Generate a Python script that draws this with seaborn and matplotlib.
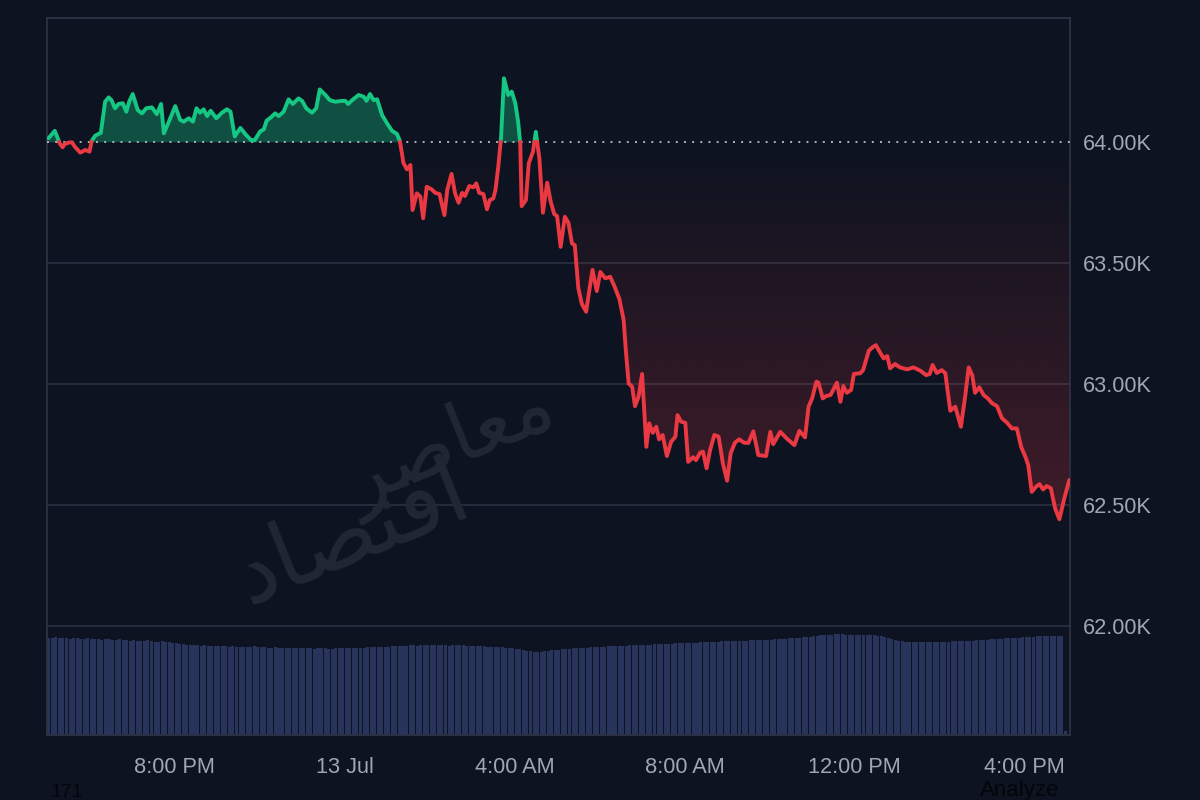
import numpy as np
import pandas as pd
import matplotlib
matplotlib.use("Agg")
import matplotlib.pyplot as plt
import seaborn as sns
from matplotlib.path import Path

# ---------------- data ----------------
# minutes since 5:00 PM (12 Jul) and price in USD
minutes = [2, 11, 18, 22, 25, 30, 35, 40, 47, 54, 60, 63, 68, 76, 82, 87, 91, 96, 101, 107,
           112, 116, 121, 128, 134, 140, 148, 155, 161, 165, 174, 181, 188, 193, 200, 206, 211, 216, 221, 226,
           231, 239, 247, 254, 259, 265, 273, 281, 288, 293, 301, 306, 310, 317, 322, 327, 334, 341, 347, 355,
           360, 366, 374, 380, 385, 393, 399, 407, 414, 421, 425, 432, 440, 447, 451, 456, 461, 466, 473, 480,
           487, 494, 498, 501, 503, 508, 513, 516, 522, 527, 531, 536, 543, 548, 554, 561, 565, 571, 576, 581,
           586, 590, 596, 602, 606, 610, 616, 621, 625, 630, 633, 637, 641, 645, 651, 656, 661, 665, 668, 670,
           676, 680, 686, 690, 695, 700, 706, 711, 716, 720, 725, 731, 736, 741, 745, 750, 755, 761, 766, 770,
           776, 781, 788, 795, 801, 808, 814, 817, 821, 826, 830, 835, 840, 846, 850, 855, 860, 864, 869, 875,
           881, 887, 890, 895, 901, 905, 912, 916, 922, 926, 931, 936, 942, 948, 954, 960, 965, 971, 977, 984,
           990, 997, 1004, 1015, 1021, 1025, 1035, 1044, 1055, 1062, 1070, 1075, 1080, 1086, 1089, 1095, 1100, 1106, 1115, 1120,
           1124, 1129, 1135, 1139, 1148, 1152, 1160, 1166, 1170, 1176, 1181, 1186, 1190, 1197, 1204, 1214, 1223, 1233, 1241, 1246,
           1250, 1256, 1263, 1268, 1275, 1282, 1290, 1296, 1301, 1306, 1310, 1316, 1322, 1328, 1334, 1341, 1348, 1355, 1362, 1369,
           1375, 1381, 1385, 1390, 1396, 1401, 1406, 1411, 1417, 1423, 1429, 1436, 1443]
prices = [64014, 64045, 63993, 63977, 63990, 63996, 63998, 63977, 63955, 63966, 63959, 64003, 64025, 64037, 64165, 64183, 64172, 64138, 64156, 64159,
          64124, 64165, 64197, 64131, 64117, 64138, 64142, 64114, 64156, 64035, 64097, 64147, 64090, 64083, 64097, 64083, 64138, 64120, 64134, 64106,
          64128, 64097, 64120, 64134, 64124, 64022, 64057, 64028, 64007, 64006, 64043, 64051, 64087, 64103, 64117, 64106, 64124, 64175, 64156, 64179,
          64169, 64138, 64120, 64138, 64216, 64193, 64172, 64165, 64168, 64169, 64156, 64175, 64193, 64186, 64169, 64197, 64172, 64175, 64110, 64076,
          64045, 64032, 64004, 63952, 63913, 63886, 63904, 63718, 63787, 63773, 63684, 63814, 63803, 63789, 63784, 63697, 63801, 63867, 63787, 63748,
          63789, 63776, 63817, 63812, 63828, 63789, 63784, 63721, 63759, 63766, 63800, 63897, 64021, 64262, 64193, 64207, 64159, 64083, 63993, 63734,
          63759, 63911, 63959, 64041, 63931, 63707, 63831, 63752, 63701, 63693, 63566, 63690, 63665, 63580, 63573, 63395, 63330, 63298, 63396, 63471,
          63383, 63462, 63436, 63442, 63403, 63350, 63263, 63140, 63002, 62988, 62908, 62947, 63041, 62740, 62837, 62798, 62823, 62771, 62789, 62702,
          62761, 62782, 62871, 62844, 62839, 62678, 62697, 62685, 62716, 62720, 62651, 62727, 62789, 62782, 62672, 62600, 62713, 62757, 62771, 62757,
          62756, 62804, 62706, 62702, 62802, 62751, 62802, 62775, 62747, 62806, 62779, 62906, 62940, 63009, 63005, 62940, 62950, 62954, 63005, 62926,
          62991, 62963, 62975, 63041, 63044, 63057, 63137, 63153, 63160, 63129, 63105, 63115, 63064, 63082, 63068, 63060, 63068, 63054, 63036, 63041,
          63078, 63045, 63057, 63044, 62889, 62906, 62823, 62947, 63068, 63036, 62963, 62986, 62954, 62940, 62920, 62908, 62858, 62840, 62816, 62816,
          62740, 62699, 62665, 62554, 62575, 62586, 62564, 62578, 62569, 62486, 62441, 62527, 62603]

# 5-minute volume bars (arbitrary units, relative heights)
volume = [97, 97, 98, 97, 97, 97, 96, 97, 97, 96, 96, 97,
          96, 96, 96, 95, 96, 96, 95, 95, 96, 95, 95, 94,
          95, 94, 94, 94, 95, 94, 93, 93, 94, 93, 93, 92,
          92, 91, 91, 90, 90, 90, 90, 89, 90, 89, 89, 89,
          89, 89, 89, 88, 89, 88, 88, 88, 88, 88, 89, 88,
          88, 88, 87, 87, 88, 87, 87, 87, 87, 87, 87, 87,
          87, 87, 87, 86, 87, 87, 87, 86, 86, 87, 87, 87,
          87, 87, 87, 87, 87, 87, 88, 88, 88, 88, 88, 88,
          88, 89, 89, 89, 89, 89, 90, 90, 89, 90, 90, 90,
          90, 90, 90, 90, 90, 89, 90, 90, 90, 90, 89, 89,
          89, 89, 89, 89, 88, 88, 88, 88, 88, 87, 87, 87,
          86, 86, 85, 84, 84, 83, 83, 83, 84, 84, 85, 85,
          85, 86, 86, 86, 87, 87, 87, 87, 87, 88, 88, 88,
          88, 88, 89, 89, 89, 89, 89, 89, 90, 90, 90, 90,
          90, 90, 90, 91, 91, 91, 91, 91, 91, 92, 92, 92,
          92, 92, 92, 92, 93, 93, 93, 93, 93, 93, 94, 94,
          94, 94, 94, 94, 94, 94, 95, 95, 95, 95, 95, 95,
          95, 96, 96, 96, 96, 97, 97, 97, 97, 98, 98, 98,
          99, 99, 100, 100, 100, 100, 101, 101, 101, 100, 100, 100,
          100, 100, 100, 100, 100, 100, 99, 99, 98, 97, 96, 95,
          94, 94, 93, 93, 93, 93, 93, 93, 93, 93, 93, 93,
          93, 93, 93, 94, 94, 94, 94, 94, 94, 94, 95, 95,
          95, 95, 96, 96, 96, 96, 97, 97, 97, 97, 97, 98,
          98, 98, 98, 99, 99, 99, 99, 99, 99, 99, 99, 4]

tick_minutes = [180, 420, 660, 900, 1140, 1380]
tick_labels = ["8:00 PM", "13 Jul", "4:00 AM", "8:00 AM", "12:00 PM", "4:00 PM"]
price_ticks = [62000, 62500, 63000, 63500, 64000]
BASE = 64000

# ---------------- style ----------------
BG = "#0d1320"
GREEN = "#16c784"
RED = "#ea3943"
GRID = "#2d3342"
TXT = "#a0a6b4"

sns.set_theme(style="dark")
plt.rcParams["font.family"] = ["Liberation Sans", "DejaVu Sans"]

# insert baseline crossing points so colours switch exactly at the baseline
t = np.array(minutes, float)
p = np.array(prices, float)
tt, pp = [t[0]], [p[0]]
for i in range(1, len(t)):
    a, b = p[i - 1] - BASE, p[i] - BASE
    if a * b < 0:
        tt.append(t[i - 1] + (t[i] - t[i - 1]) * a / (a - b))
        pp.append(BASE)
    tt.append(t[i])
    pp.append(p[i])
tt = np.array(tt)
pp = np.array(pp)

rows = []
seg = 0
side = "up" if pp[0] > BASE else "down"
for ti, pi in zip(tt, pp):
    rows.append((ti, pi, seg, side))
    if pi == BASE:
        seg += 1
        side = "down" if side == "up" else "up"
        rows.append((ti, pi, seg, side))
df = pd.DataFrame(rows, columns=["t", "p", "seg", "side"])

fig = plt.figure(figsize=(12, 8), dpi=100, facecolor=BG)
ax = fig.add_axes([47 / 1200, 1 - 735 / 800, (1070 - 47) / 1200, (735 - 18) / 800])
ax_v = ax.twinx()

# volume bars (behind)
vol_t = np.arange(len(volume)) * 5 + 2.5
ax_v.bar(vol_t, volume, width=4.3, color="#29345c", linewidth=0)
ax_v.set_ylim(0, 717)
ax_v.set_yticks([])
for s in ax_v.spines.values():
    s.set_visible(False)
ax_v.grid(False)

ax.set_zorder(ax_v.get_zorder() + 1)
ax.patch.set_visible(False)
ax_v.patch.set_facecolor(BG)

# green fill above baseline
up = np.maximum(pp, BASE)
ax.fill_between(tt, BASE, up, color=GREEN, alpha=0.34, linewidth=0, zorder=2)

# red gradient fill below baseline
down = np.minimum(pp, BASE)
poly = ax.fill_between(tt, down, BASE, facecolor="none", linewidth=0, zorder=1)
ny = 200
alpha = np.linspace(0.25, 0.0, ny)
grad = np.zeros((ny, 2, 4))
rgb = matplotlib.colors.to_rgb(RED)
grad[..., 0], grad[..., 1], grad[..., 2] = rgb
grad[..., 3] = alpha[:, None]
im = ax.imshow(grad, extent=[0, 1444, 62350, 64000], origin="lower", aspect="auto",
               zorder=1, interpolation="bilinear")
clip = Path.make_compound_path(*poly.get_paths())
im.set_clip_path(clip, transform=ax.transData)

# grid lines and dotted baseline
for v in price_ticks:
    if v == BASE:
        ax.axhline(v, color="#aeb3bd", lw=1.4, ls=(0, (1, 3.2)), zorder=3)
    else:
        ax.axhline(v, color=GRID, lw=1.1, zorder=0.5)

# price line
sns.lineplot(data=df, x="t", y="p", hue="side", units="seg", estimator=None,
             palette={"up": GREEN, "down": RED}, linewidth=2.8, legend=False,
             sort=False, ax=ax, zorder=4)

# watermark (faint)
ax.text(570, 62740, "\uFEAE\uFEBB\uFE8E\uFECC\uFEE3", rotation=22, ha="center", va="center",
        fontsize=58, color="#212734", family="DejaVu Sans", zorder=0.6)
ax.text(430, 62380, "\uFEA9\uFE8E\uFEBC\uFE98\uFED7\uFE8D", rotation=22, ha="center", va="center",
        fontsize=66, color="#212734", family="DejaVu Sans", zorder=0.6)

ax.set_xlim(0, 1444)
ax.set_ylim(61550, 64511)
ax.set_xticks(tick_minutes)
ax.set_xticklabels(tick_labels)
ax.set_yticks(price_ticks)
ax.set_yticklabels([f"{v / 1000:.2f}K" for v in price_ticks])
ax.yaxis.tick_right()
ax.yaxis.set_label_position("right")
ax.set_xlabel("")
ax.set_ylabel("")
ax.grid(False)
ax.tick_params(axis="y", length=0, pad=9, labelsize=15.7, labelcolor=TXT)
ax.tick_params(axis="x", length=0, pad=16, labelsize=15.7, labelcolor=TXT)
for s in ax.spines.values():
    s.set_visible(True)
    s.set_color("#2f3545")
    s.set_linewidth(1.2)

fig.text(50 / 1200, 1 - 784 / 800, "171", color="#040508", fontsize=14, va="top", ha="left")
fig.text(980 / 1200, 1 - 796 / 800, "Analyze", color="#040508", fontsize=16, va="baseline", ha="left")

fig.savefig("out.png", dpi=100, facecolor=BG)
